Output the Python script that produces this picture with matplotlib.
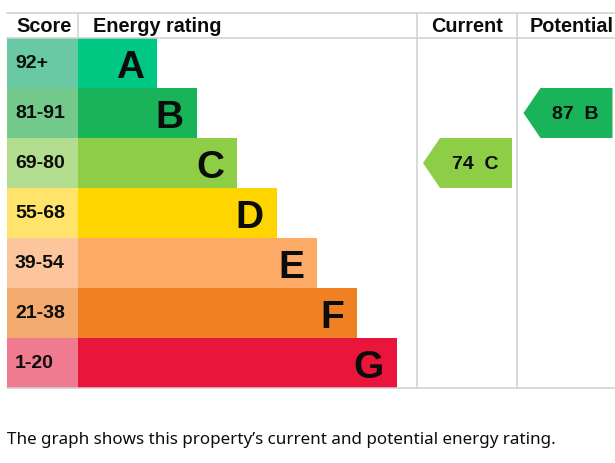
import matplotlib
matplotlib.use("Agg")
import matplotlib.pyplot as plt
from matplotlib.patches import Rectangle, Polygon

# ---- data ----
bands = ["A", "B", "C", "D", "E", "F", "G"]
score_labels = ["92+", "81-91", "69-80", "55-68", "39-54", "21-38", "1-20"]
band_min = [92, 81, 69, 55, 39, 21, 1]
current_score = 74
potential_score = 87
headers = ["Score", "Energy rating", "Current", "Potential"]
footer = "The graph shows this property\u2019s current and potential energy rating."

# ---- styles ----
bar_colors = ["#00c781", "#19b459", "#8dce46", "#ffd500", "#fcaa65", "#ef8023", "#e9153b"]
score_colors = ["#68c9a4", "#74ca8c", "#b2dd8e", "#ffe36a", "#fcc59c", "#f3aa6e", "#f07a90"]
line_col = "#d0d0d0"
txt_col = "#0b0c0c"
FONT = "Liberation Sans"

W, H = 615, 463
fig = plt.figure(figsize=(W / 100, H / 100), dpi=100)
ax = fig.add_axes([0, 0, 1, 1])
ax.set_xlim(0, W)
ax.set_ylim(H, 0)
ax.axis("off")

left, score_right = 7, 78
top, head_bot, row_h = 13, 38, 50
bar_first, bar_step = 157, 40
col1, col2, right = 416.5, 517, 615
table_bot = head_bot + row_h * len(bands)

def band_index(score):
    for i, m in enumerate(band_min):
        if score >= m:
            return i
    return len(bands) - 1

# rows
for i, (b, s) in enumerate(zip(bands, score_labels)):
    y0 = head_bot + i * row_h
    ax.add_patch(Rectangle((left, y0), score_right - left, row_h, color=score_colors[i], lw=0))
    bar_end = bar_first + bar_step * i
    ax.add_patch(Rectangle((score_right, y0), bar_end - score_right, row_h, color=bar_colors[i], lw=0))
    ax.text(15, y0 + 30, s, fontsize=14, fontweight="bold", family=FONT, color=txt_col,
            ha="left", va="baseline")
    ax.text(bar_end - 13, y0 + 39.5, b, fontsize=28, fontweight="bold", family=FONT, color=txt_col,
            ha="right", va="baseline")

# grid lines
lw = 1.1
ax.plot([left, right], [top, top], color=line_col, lw=lw)
ax.plot([left, right], [head_bot, head_bot], color=line_col, lw=lw)
ax.plot([left, right], [table_bot, table_bot], color=line_col, lw=lw)
ax.plot([score_right, score_right], [top, head_bot], color=line_col, lw=lw)
for x in (col1, col2):
    ax.plot([x, x], [top, table_bot], color=line_col, lw=lw)

# headers
hs = 14.3
ax.text(16, 32, headers[0], fontsize=hs, fontweight="bold", family=FONT, color=txt_col, ha="left", va="baseline")
ax.text(93, 32, headers[1], fontsize=hs, fontweight="bold", family=FONT, color=txt_col, ha="left", va="baseline")
ax.text(467.5, 32, headers[2], fontsize=hs, fontweight="bold", family=FONT, color=txt_col, ha="center", va="baseline")
ax.text(571.5, 32, headers[3], fontsize=hs, fontweight="bold", family=FONT, color=txt_col, ha="center", va="baseline")

# arrows
def arrow(col_left, score):
    i = band_index(score)
    y0 = head_bot + i * row_h
    tip = col_left + 6.5
    shoulder = tip + 17
    rx = shoulder + 72
    pts = [(tip, y0 + row_h / 2), (shoulder, y0), (rx, y0), (rx, y0 + row_h), (shoulder, y0 + row_h)]
    ax.add_patch(Polygon(pts, closed=True, color=bar_colors[i], lw=0))
    ax.text(shoulder + 35, y0 + 31, f"{score}  {bands[i]}", fontsize=14, fontweight="bold",
            family=FONT, color=txt_col, ha="center", va="baseline")

arrow(col1, current_score)
arrow(col2, potential_score)

ax.text(7, 444, footer, fontsize=12.25, family="Noto Sans", color=txt_col, ha="left", va="baseline")

fig.savefig("out.png", dpi=100)
